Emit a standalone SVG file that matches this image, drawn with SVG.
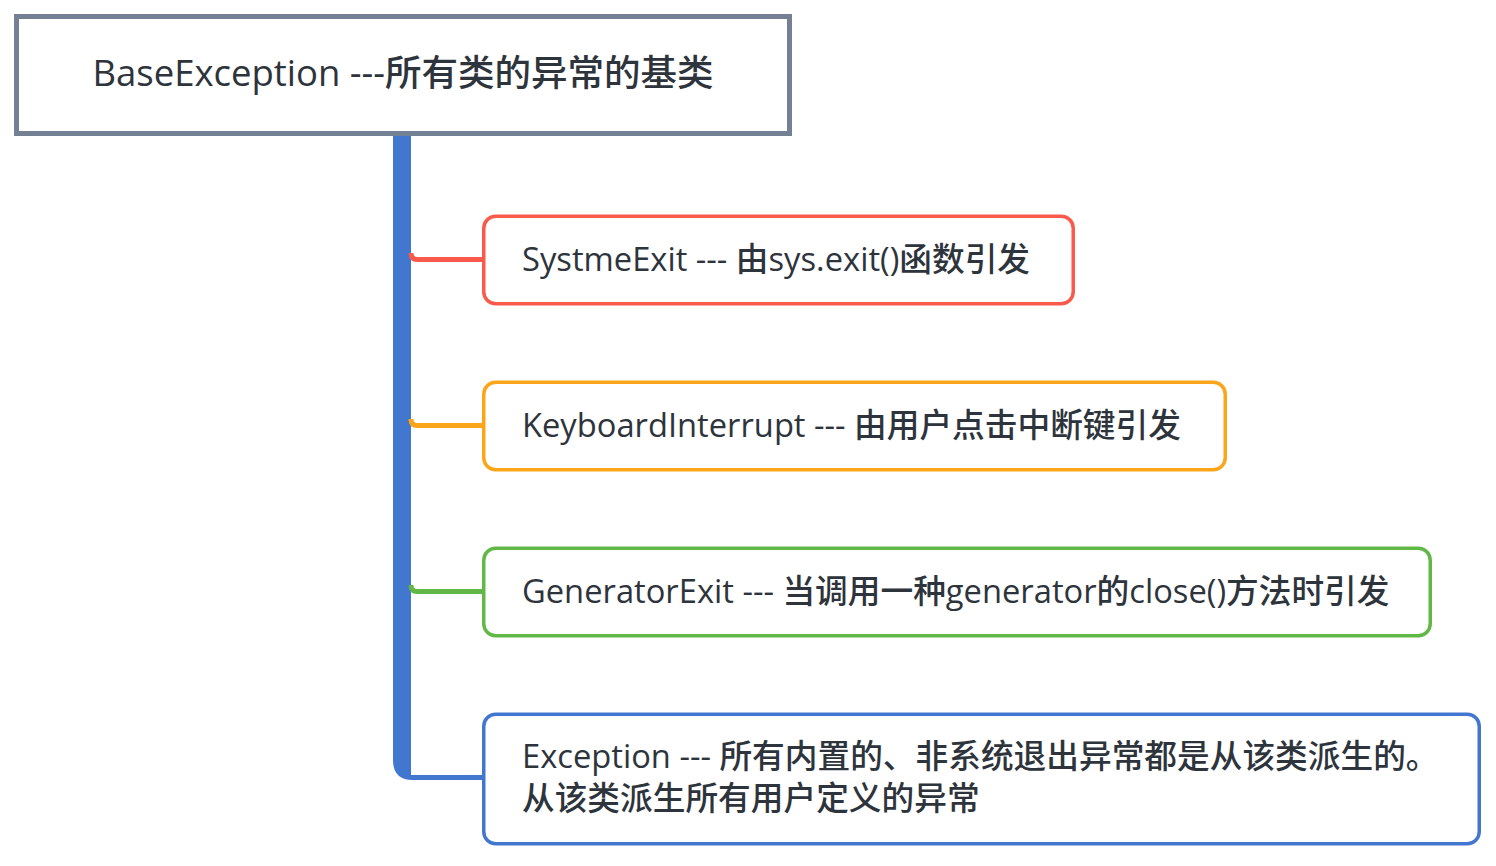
<svg xmlns="http://www.w3.org/2000/svg" width="1496" height="866" viewBox="0 0 1496 866">
<style>
text{font-family:"Open Sans","Noto Sans CJK SC",sans-serif;fill:#2e343c;font-weight:500}
.root{font-size:36.5px}
.t{font-size:32.7px}
.box{fill:#fff;stroke-width:3.5}
.br{fill:none;stroke-width:5}
</style>
<rect width="1496" height="866" fill="#fff"/>
<g id="connectors">
<path d="M393 136 V760 Q393 780 413 780 H482 V775 H411 V136 Z" fill="#4277d0"/>
<path class="br" stroke="#f95a4b" d="M411 253 Q411 259.5 417 259.5 H484"/>
<path class="br" stroke="#fba51b" d="M411 419 Q411 425.5 417 425.5 H484"/>
<path class="br" stroke="#62b846" d="M411 585 Q411 591.5 417 591.5 H484"/>
</g>
<g id="root">
<rect x="16.5" y="16.5" width="773" height="117" fill="#fff" stroke="#748094" stroke-width="5"/>
<text class="root" x="403" y="86" text-anchor="middle">BaseException ---所有类的异常的基类</text>
</g>
<g id="systemexit">
<rect class="box" x="483.75" y="216.25" width="589.5" height="87.5" rx="12" stroke="#f95a4b"/>
<text class="t" x="522" y="271">SystmeExit --- 由sys.exit()函数引发</text>
</g>
<g id="keyboardinterrupt">
<rect class="box" x="483.75" y="382.25" width="741.5" height="87.5" rx="12" stroke="#fba51b"/>
<text class="t" x="522" y="437">KeyboardInterrupt --- 由用户点击中断键引发</text>
</g>
<g id="generatorexit">
<rect class="box" x="483.75" y="548.25" width="946.5" height="87.5" rx="12" stroke="#62b846"/>
<text class="t" x="522" y="603">GeneratorExit --- 当调用一种generator的close()方法时引发</text>
</g>
<g id="exception">
<rect class="box" x="483.75" y="714.25" width="995.5" height="129.5" rx="12" stroke="#4277d0"/>
<text class="t" x="522" y="768">Exception --- 所有内置的、非系统退出异常都是从该类派生的。</text>
<text class="t" x="522" y="810">从该类派生所有用户定义的异常</text>
</g>
</svg>
